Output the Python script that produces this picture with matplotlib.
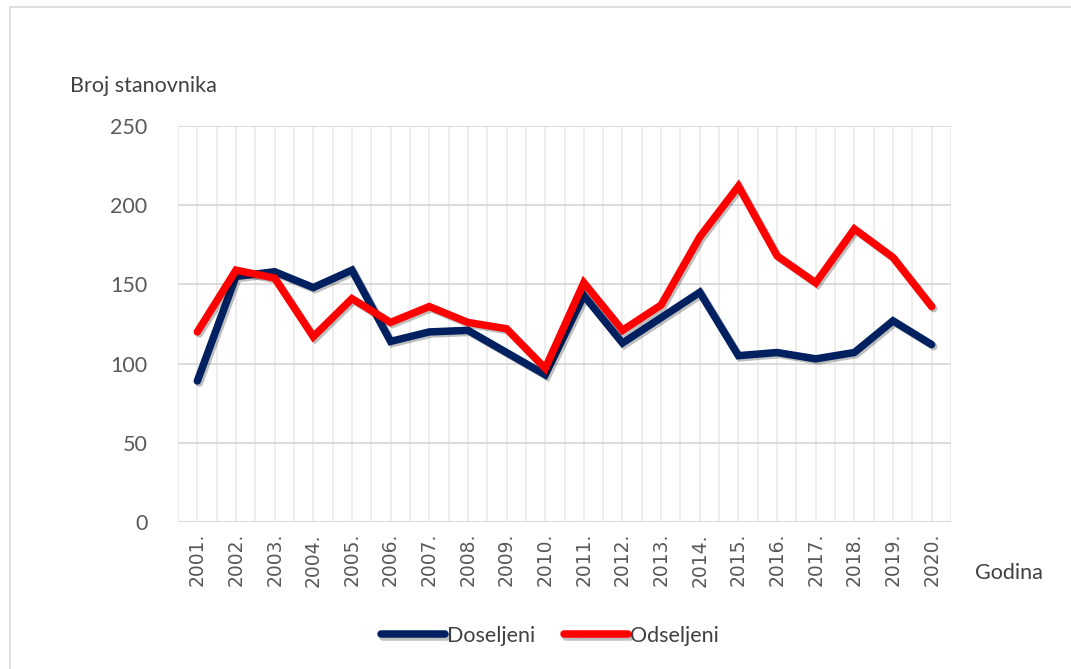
import matplotlib.pyplot as plt
import matplotlib.patheffects as pe
from matplotlib.patches import Rectangle

plt.rcParams['font.family'] = ['Lato', 'DejaVu Sans']

# Podaci
godine = ['2001.', '2002.', '2003.', '2004.', '2005.', '2006.', '2007.', '2008.', '2009.', '2010.',
          '2011.', '2012.', '2013.', '2014.', '2015.', '2016.', '2017.', '2018.', '2019.', '2020.']
doseljeni = [89, 155, 158, 148, 159, 114, 120, 121, 107, 93,
             143, 113, 129, 145, 105, 107, 103, 107, 127, 112]
odseljeni = [120, 159, 154, 117, 141, 126, 136, 126, 122, 97,
             151, 121, 137, 180, 212, 168, 151, 185, 167, 136]

W, H = 1071, 669
fig = plt.figure(figsize=(W / 100, H / 100), dpi=100)
ax = fig.add_axes([178 / W, 1 - 522 / H, (951 - 178) / W, (522 - 126) / H])

x = list(range(len(godine)))
sjena = [pe.SimpleLineShadow(offset=(1.5, -1.5), alpha=0.25, shadow_color='black'), pe.Normal()]
ax.plot(x, doseljeni, color='#002060', lw=5.4, label='Doseljeni', path_effects=sjena,
        solid_joinstyle='miter', solid_capstyle='round')
ax.plot(x, odseljeni, color='#ff0000', lw=5.4, label='Odseljeni', path_effects=sjena,
        solid_joinstyle='miter', solid_capstyle='round')

ax.set_xlim(-0.5, len(godine) - 0.5)
ax.set_ylim(0, 250)
ax.set_yticks([0, 50, 100, 150, 200, 250])
ax.set_xticks(x)
ax.set_xticklabels(godine, rotation=90, fontsize=13.5, color='#595959', family='DejaVu Sans')
ax.tick_params(axis='y', labelsize=15.5, colors='#595959', length=0, pad=22)
ax.tick_params(axis='x', length=0, pad=8)

# mreža
for xi in [i * 0.5 - 0.5 for i in range(2 * len(godine) + 1)]:
    ax.axvline(xi, color='#ececec', lw=1.3, zorder=0)
ax.yaxis.grid(True, color='#d9d9d9', lw=1.3)
ax.set_axisbelow(True)
for s in ax.spines.values():
    s.set_visible(False)
ax.axhline(0, color='#d9d9d9', lw=1.5, zorder=0)

fig.text(70 / W, 1 - 86 / H, 'Broj stanovnika', fontsize=15.5, color='#404040', va='center')
fig.text(975 / W, 1 - 573 / H, 'Godina', fontsize=15.5, color='#404040', va='center')

fig.legend(loc='center', bbox_to_anchor=(550 / W, 1 - 636 / H), ncol=2, frameon=False,
           fontsize=15.5, handlelength=3.0, handletextpad=0.1, columnspacing=1.3,
           labelcolor='#404040')

fig.patches.append(Rectangle((10 / W, -0.1), 1.2, 1 - 7 / H + 0.1, transform=fig.transFigure,
                             fill=False, edgecolor='#d9d9d9', lw=1.2))

fig.savefig('out.png', dpi=100)
